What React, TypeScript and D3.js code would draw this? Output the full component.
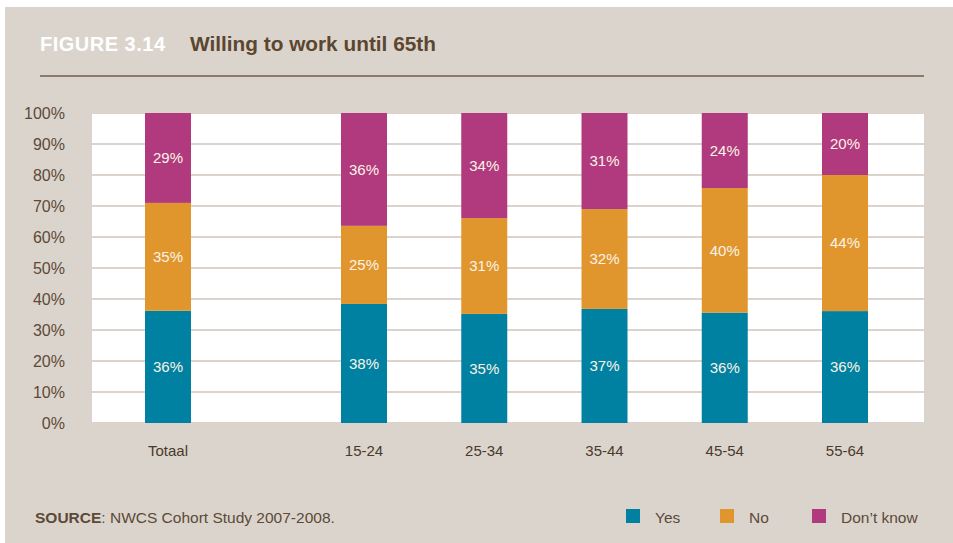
import React from "react";
import * as d3 from "d3";

const categories = ["Totaal", "15-24", "25-34", "35-44", "45-54", "55-64"];
const yesValues = [36.2, 38.4, 35.2, 36.8, 35.6, 36.1];
const noValues = [34.8, 25.2, 30.9, 32.2, 40.2, 43.9];
const dontKnowValues = [29.0, 36.4, 33.9, 31.0, 24.2, 20.0];
const seriesNames = ["Yes", "No", "Don\u2019t know"];
const seriesColors = ["#0081a1", "#e1962d", "#b03a7d"];
const yTicks = [0, 10, 20, 30, 40, 50, 60, 70, 80, 90, 100];
// layout slot of each category (Totaal separated by a gap)
const slots = [0, 1.63, 2.63, 3.63, 4.63, 5.63];

const W = 953;
const H = 543;
const plot = { left: 92, right: 924, top: 113, bottom: 423 };
const brown = "#5c4a37";
const font = "'Liberation Sans', Arial, sans-serif";

export default function App() {
  const y = d3.scaleLinear().domain([0, 100]).range([plot.bottom, plot.top]);
  const x = d3.scaleLinear().domain([0, 5.63]).range([168, 845]);
  const barW = 46;

  const rows = categories.map((c, i) => ({
    cat: c,
    Yes: yesValues[i],
    No: noValues[i],
    "Don\u2019t know": dontKnowValues[i],
  }));
  const stack = d3.stack<any>().keys(seriesNames)(rows);

  return (
    <svg
      width={W}
      height={H}
      style={{ position: "absolute", left: 0, top: 0 }}
      fontFamily={font}
    >
      <rect x={0} y={0} width={W} height={H} fill="#ffffff" />
      <rect x={5} y={7} width={W - 5} height={H - 7} fill="#dbd4cd" />

      <text x={40} y={51} fontSize={20} fontWeight="bold" fill="#ffffff" letterSpacing={0.5}>
        FIGURE 3.14
      </text>
      <text x={190} y={51} fontSize={20.8} fontWeight="bold" fill="#5b4630">
        Willing to work until 65th
      </text>
      <line x1={40} x2={924} y1={76} y2={76} stroke="#6e5c47" strokeWidth={1.5} />

      <rect
        x={plot.left}
        y={plot.top}
        width={plot.right - plot.left}
        height={plot.bottom - plot.top}
        fill="#ffffff"
      />
      {yTicks.map((t) => (
        <line
          key={"g" + t}
          x1={plot.left}
          x2={plot.right}
          y1={y(t)}
          y2={y(t)}
          stroke="#dcd3cc"
          strokeWidth={2}
        />
      ))}
      {yTicks.map((t) => (
        <text
          key={"t" + t}
          x={65}
          y={y(t)}
          dy="0.36em"
          textAnchor="end"
          fontSize={16}
          fill={brown}
        >
          {t}%
        </text>
      ))}

      {stack.map((layer, si) =>
        layer.map((d, i) => {
          const y0 = y(d[0]);
          const y1 = y(d[1]);
          const cx = x(slots[i]);
          return (
            <g key={si + "-" + i}>
              <rect
                x={cx - barW / 2}
                y={y1}
                width={barW}
                height={y0 - y1}
                fill={seriesColors[si]}
              />
              <text
                x={cx}
                y={(y0 + y1) / 2}
                dy="0.36em"
                textAnchor="middle"
                fontSize={15}
                fill="#fbf3e6"
              >
                {Math.round(d[1] - d[0])}%
              </text>
            </g>
          );
        })
      )}

      {categories.map((c, i) => (
        <text
          key={"x" + c}
          x={x(slots[i])}
          y={451}
          dy="0.36em"
          textAnchor="middle"
          fontSize={15}
          fill="#4a3a2b"
        >
          {c}
        </text>
      ))}

      <text x={35} y={523} fontSize={15.5} fill={brown}>
        <tspan fontWeight="bold">SOURCE</tspan>: NWCS Cohort Study 2007-2008.
      </text>

      {seriesNames.map((s, i) => {
        const lx = [626, 720, 812][i];
        return (
          <g key={"l" + s}>
            <rect x={lx} y={509} width={14} height={14} fill={seriesColors[i]} />
            <text x={lx + 29} y={517} dy="0.36em" fontSize={15.5} fill={brown}>
              {s}
            </text>
          </g>
        );
      })}
    </svg>
  );
}
